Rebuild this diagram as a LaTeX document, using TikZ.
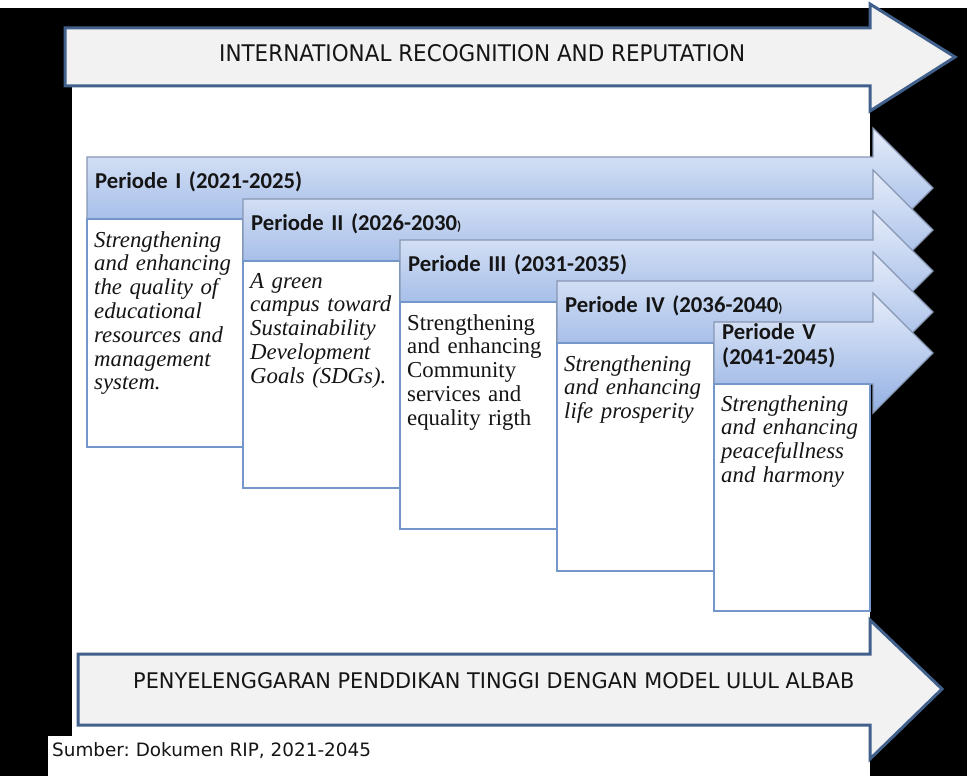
\documentclass[tikz,border=0pt]{standalone}
\usepackage{graphicx}
\usepackage{fontspec}
\setmainfont{Liberation Serif}
\newfontfamily\hdrfont{Carlito}
\newfontfamily\capfont{DejaVu Sans}
\definecolor{bandtop}{HTML}{E6EDFA}
\definecolor{bandbot}{HTML}{93B0E3}
\definecolor{bandline}{HTML}{8797B3}
\definecolor{boxline}{HTML}{7596CB}
\definecolor{bigfill}{HTML}{F2F2F2}
\definecolor{bigline}{HTML}{41618C}
\definecolor{txt}{HTML}{151515}
\tikzset{
  bigarrow/.style={fill=bigfill, draw=bigline, line width=3pt, line join=miter},
  bandarrow/.style={top color=bandtop, bottom color=bandbot, draw=bandline, line width=1.1pt},
  textbox/.style={fill=white, draw=boxline, line width=1.4pt},
  hdr/.style={anchor=base west, inner sep=0pt, text=txt, text width=280pt, align=left, font=\hdrfont\bfseries\fontsize{22.7}{25}\selectfont},
  body/.style={anchor=base west, inner sep=0pt, text=txt, text width=165pt, align=left, font=\fontsize{22.8}{23.8}\selectfont},
  captxt/.style={anchor=base west, inner sep=0pt, text=txt}
}
\begin{document}
\frenchspacing
\begin{tikzpicture}[x=1pt,y=-1pt]
\useasboundingbox (0,0) rectangle (967,776);
% background
\fill[black] (0,0) rectangle (967,776);
\fill[white] (0,0) rectangle (967,8);
\fill[white] (72,28) rectangle (870,776);
\fill[white] (48,736) rectangle (400,776);
% top arrow
\draw[bigarrow] (65,28) -- (870,28) -- (870,4) -- (955,57) -- (870,111) -- (870,86) -- (65,86) -- cycle;
% bottom arrow
\draw[bigarrow] (78,654) -- (870,654) -- (870,620) -- (942,689) -- (870,759) -- (870,725) -- (78,725) -- cycle;
% period arrows and boxes
\foreach \xl/\tp/\bb/\xr in {87/157/447/243, 243/199/488/400, 400/240/529/557, 557/281/571/714, 714/322/611/870}{
  \draw[bandarrow] (\xl,\tp) -- (873,\tp) -- (873,\tp-29) -- (933,\tp+31) -- (873,\tp+91) -- (873,\tp+62) -- (\xl,\tp+62) -- cycle;
  \draw[textbox] (\xl,\tp+62) rectangle (\xr,\bb);
}
% headers
\node[hdr] (h1) at (95,188) {Periode I (2021-2025)};
\node[hdr] (h2) at (251,230) {Periode II (2026-2030{\fontsize{13}{13}\selectfont )}};
\node[hdr] (h3) at (408,271) {Periode III (2031-2035)};
\node[hdr] (h4) at (565,312) {Periode IV (2036-2040{\fontsize{13}{13}\selectfont )}};
\node[hdr, text width=140pt] (h5) at (722,339) {Periode V\\(2041-2045)};
% body texts
\node[body] (t1) at (94,247) {\itshape Strengthening\\and enhancing\\the quality of\\educational\\resources and\\management\\system.};
\node[body] (t2) at (250,288) {\itshape A green\\campus toward\\Sustainability\\Development\\Goals (SDGs).};
\node[body] (t3) at (407,330) {Strengthening\\and enhancing\\Community\\services and\\equality rigth};
\node[body] (t4) at (564,371) {\itshape Strengthening\\and enhancing\\life prosperity};
\node[body] (t5) at (721,411) {\itshape Strengthening\\and enhancing\\peacefullness\\and harmony};
% big arrow texts
\node[captxt] (toptext) at (219,61) {\resizebox{526pt}{17pt}{\capfont INTERNATIONAL RECOGNITION AND REPUTATION}};
\node[captxt] (bottext) at (133,688) {\resizebox{721pt}{16pt}{\capfont PENYELENGGARAN PENDDIKAN TINGGI DENGAN MODEL ULUL ALBAB}};
\node[captxt] (src) at (52,756) {\capfont\fontsize{18.4}{20}\selectfont Sumber: Dokumen RIP, 2021-2045};
\end{tikzpicture}
\end{document}
